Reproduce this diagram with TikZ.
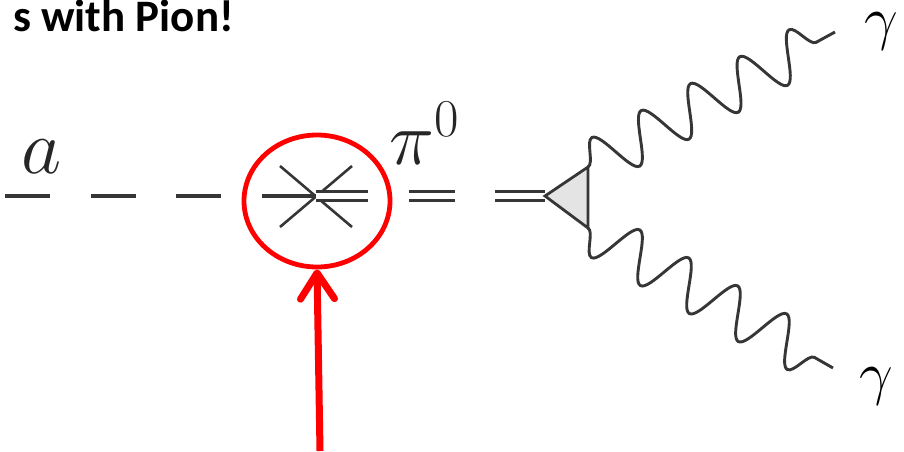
\RequirePackage{fix-cm}
\documentclass[tikz,border=0pt]{standalone}
\usepackage{fontspec}
\newfontfamily\titlefont{Carlito}
\usetikzlibrary{decorations.pathmorphing,arrows.meta,shapes.geometric}
\definecolor{ink}{HTML}{363636}
\definecolor{trifill}{HTML}{E4E4E4}
\begin{document}
\begin{tikzpicture}[x=1pt,y=-1pt,
  feyn/.style={draw=ink, line width=3.4pt},
  photon/.style={draw=ink, line width=2.9pt, decorate,
    decoration={snake, amplitude=24pt, segment length=#1}},
  lbl/.style={inner sep=0pt, text=black!85},
  redline/.style={draw=red, line width=4.8pt}]
\useasboundingbox (0,0) rectangle (904,451);

% title
\node[lbl, anchor=base east, text=black] (title) at (234,31)
  {\titlefont\fontsize{45}{45}\selectfont\bfseries s with Pion!};

% key points
\coordinate (astart) at (5,196);
\coordinate (cross) at (316,196);
\coordinate (tri) at (545,196);
\coordinate (tritop) at (588,167);
\coordinate (tribot) at (588,228);
\coordinate (g1end) at (835,32);
\coordinate (g2end) at (833,368);
\coordinate (arrowbase) at (320,451);

% axion dashed line
\draw[feyn, dash pattern=on 45pt off 40.7pt on 45pt off 40.7pt on 45pt off 40.7pt on 80pt]
  (astart) -- (cross);

% mixing cross
\coordinate (c1) at (280,166);
\coordinate (c2) at (352,227);
\coordinate (c3) at (280,227);
\coordinate (c4) at (352,166);
\draw[draw=ink, line width=2.6pt] (c1) -- (c2);
\draw[draw=ink, line width=2.6pt] (c3) -- (c4);

% pion double dashed line
\draw[draw=ink, line width=3.1pt, double=white, double distance=6.2pt,
  dash pattern=on 52pt off 41pt on 46pt off 40pt on 60pt]
  (cross) -- (tri);

% vertex triangle
\draw[draw=ink, line width=2.8pt, fill=trifill, line join=miter]
  (tri) -- (tritop) -- (tribot) -- cycle;

% photons
\draw[photon=56.2pt] (tritop) -- (g1end);
\draw[photon=56.4pt, decoration={mirror}] (tribot) -- (g2end);

% labels
\node[lbl, anchor=base west] (alabel) at (21,173)
  {\fontsize{78}{78}\selectfont$a$};
\node[lbl, anchor=base west] (pilabel) at (389,164)
  {\fontsize{76}{76}\selectfont$\pi^0$};
\node[lbl, anchor=base west, text=black] (gamma1) at (864,38)
  {\fontsize{60}{60}\selectfont$\gamma$};
\node[lbl, anchor=base west, text=black] (gamma2) at (859,393)
  {\fontsize{60}{60}\selectfont$\gamma$};

% red highlight
\node[redline, ellipse, minimum width=146pt, minimum height=132pt, inner sep=0pt]
  (ring) at (317,201) {};
\draw[draw=red, line width=7pt,
  -{Straight Barb[length=26pt, width=34pt, round]}]
  (arrowbase) -- (ring.south);
\end{tikzpicture}
\end{document}
